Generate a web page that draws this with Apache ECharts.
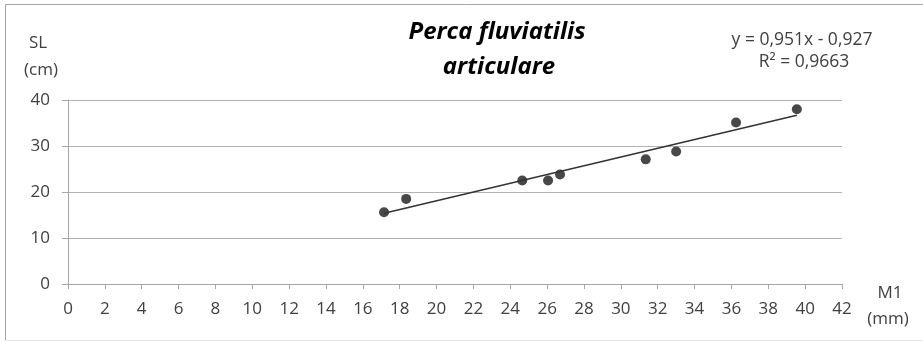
<!DOCTYPE html>
<html><head><meta charset="utf-8">
<script src="https://cdn.jsdelivr.net/npm/echarts@6/dist/echarts.min.js"></script>
<style>html,body{margin:0;padding:0;background:#fff}#c{width:923px;height:341px}</style>
</head><body><div id="c"></div>
<script>
const m1 = [17.15, 18.35, 24.65, 26.05, 26.7, 31.35, 33.0, 36.25, 39.55];
const sl = [15.6, 18.5, 22.5, 22.5, 23.8, 27.1, 28.8, 35.1, 38.0];
const slope = 0.951, intercept = -0.927;
const trendX = [Math.min(...m1), Math.max(...m1)];
const xTicks = {min: 0, max: 42, interval: 2};
const yTicks = {min: 0, max: 40, interval: 10};
const titleLines = ['Perca fluviatilis', 'articulare'];
const eqLines = ['y = 0,951x - 0,927', 'R² = 0,9663'];
const yTitle = ['SL', '(cm)'];
const xTitle = ['M1', '(mm)'];

const chart = echarts.init(document.getElementById('c'));
const font = '"Open Sans", "Noto Sans", sans-serif';
const txt = '#404040';
function t(text, x, y, f, fill, align) {
  return {type: 'text', style: {text: text, x: x, y: y, align: align || 'center', verticalAlign: 'middle', font: f, fill: fill || txt}};
}
chart.setOption({
  animation: false,
  backgroundColor: '#fff',
  grid: {left: 68, right: 81, top: 100, bottom: 57},
  graphic: [
    {type: 'line', shape: {x1: 5.5, y1: 4.5, x2: 923, y2: 4.5}, style: {stroke: '#a6a6a6', lineWidth: 1}},
    {type: 'line', shape: {x1: 5.5, y1: 4.5, x2: 5.5, y2: 340}, style: {stroke: '#a6a6a6', lineWidth: 1}},
    {type: 'line', shape: {x1: 5.5, y1: 340.5, x2: 923, y2: 340.5}, style: {stroke: '#e8e8e8', lineWidth: 1}},
    t(titleLines[0], 497, 32, 'italic bold 24px ' + font, '#000'),
    t(titleLines[1], 499, 67, 'italic bold 24px ' + font, '#000'),
    t(eqLines[0], 802, 40, '17.5px ' + font),
    t(eqLines[1], 804, 62, '17.5px ' + font),
    t(yTitle[0], 38, 43, '17px ' + font),
    t(yTitle[1], 41, 70, '17px ' + font),
    t(xTitle[0], 890, 293, '17px ' + font),
    t(xTitle[1], 888, 319, '17px ' + font)
  ],
  xAxis: {
    type: 'value', min: xTicks.min, max: xTicks.max, interval: xTicks.interval,
    axisLine: {show: true, lineStyle: {color: '#a6a6a6', width: 1}},
    axisTick: {show: true, length: 5, lineStyle: {color: '#a6a6a6'}},
    axisLabel: {color: txt, fontSize: 17, fontFamily: font, margin: 17},
    splitLine: {show: false}
  },
  yAxis: {
    type: 'value', min: yTicks.min, max: yTicks.max, interval: yTicks.interval,
    axisLine: {show: true, lineStyle: {color: '#a6a6a6', width: 1}},
    axisTick: {show: true, length: 6, lineStyle: {color: '#a6a6a6'}},
    axisLabel: {color: txt, fontSize: 17, fontFamily: font, margin: 18},
    splitLine: {show: true, lineStyle: {color: '#b3b3b3', width: 1}}
  },
  series: [
    {type: 'line', data: trendX.map(x => [x, slope * x + intercept]), symbol: 'none',
     lineStyle: {color: '#333', width: 1.5}, silent: true},
    {type: 'scatter', data: m1.map((x, i) => [x, sl[i]]), symbolSize: 10,
     itemStyle: {color: '#1a1a1a'}}
  ]
});
</script></body></html>
